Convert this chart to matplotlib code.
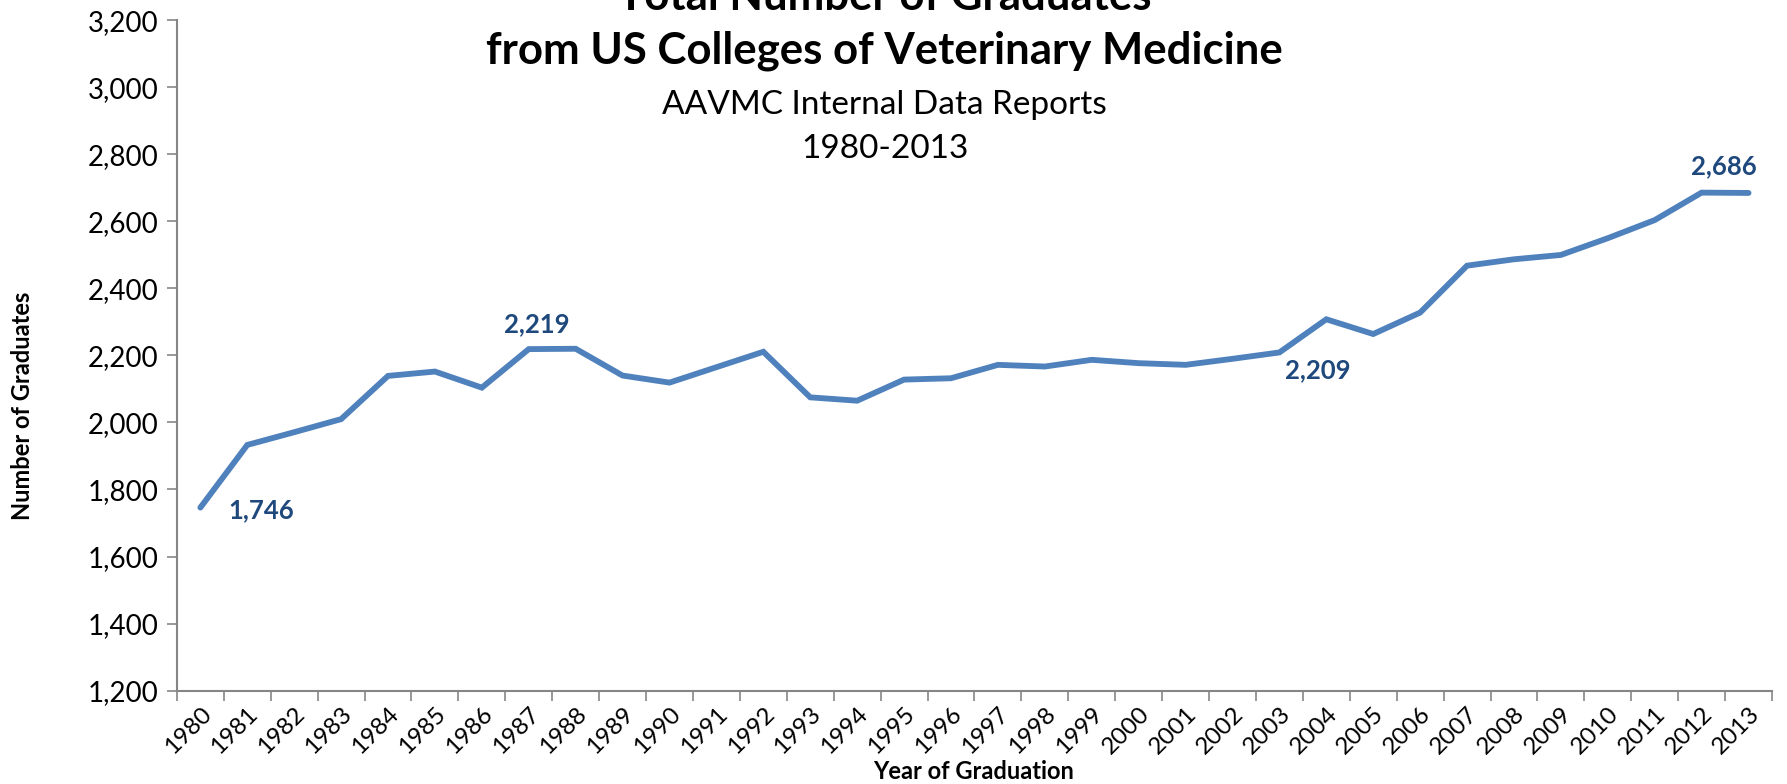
import matplotlib.pyplot as plt
from matplotlib.ticker import FuncFormatter, FixedLocator

# Data
years = [str(y) for y in range(1980, 2014)]
graduates = [1746, 1933, 1971, 2010, 2139, 2152, 2104, 2219, 2220, 2140,
             2119, 2165, 2211, 2075, 2065, 2128, 2132, 2172, 2167, 2187,
             2177, 2172, 2190, 2209, 2308, 2264, 2328, 2468, 2487, 2500,
             2550, 2604, 2686, 2685]
# which points carry a value label (offset in points, horizontal alignment)
labeled = {"1980": (20, -2, 'left'), "1987": (6, 18, 'center'),
           "2003": (28, -13, 'center'), "2012": (16, 19, 'center')}

plt.rcParams['font.family'] = ['Lato', 'DejaVu Sans']

line_color = '#4F81BD'
label_color = '#1F497D'
axis_color = '#868686'

fig = plt.figure(figsize=(17.87, 7.84), dpi=100)
ax = fig.add_axes([0.099, 0.1192, 0.8926, 0.8548])

x = list(range(len(years)))
ax.plot(x, graduates, color=line_color, lw=4.2, solid_joinstyle='miter',
        solid_capstyle='round')

for i, yr in enumerate(years):
    if yr in labeled:
        dx, dy, ha = labeled[yr]
        ax.annotate(f'{graduates[i]:,}', (i, graduates[i]), xytext=(dx, dy),
                    textcoords='offset points', ha=ha, va='center',
                    fontsize=18.5, fontweight='bold', color=label_color)

ax.set_xlim(-0.5, len(years) - 0.5)
ax.set_ylim(1200, 3200)
ax.set_yticks(range(1200, 3201, 200))
ax.yaxis.set_major_formatter(FuncFormatter(lambda v, p: f'{int(v):,}'))

# category axis: ticks between categories, labels on categories
ax.xaxis.set_major_locator(FixedLocator([i - 0.5 for i in range(len(years) + 1)]))
ax.xaxis.set_major_formatter(FuncFormatter(lambda v, p: ''))
ax.set_xticks(x, minor=True)
ax.set_xticklabels(years, minor=True, rotation=45, ha='right',
                   rotation_mode='anchor', fontsize=17.5)
ax.tick_params(axis='x', which='minor', length=0, pad=9)
ax.tick_params(axis='x', which='major', length=7, width=1.2, color=axis_color)
ax.tick_params(axis='y', length=7, width=1.2, color=axis_color, labelsize=20, pad=6)

for side in ['top', 'right']:
    ax.spines[side].set_visible(False)
for side in ['left', 'bottom']:
    ax.spines[side].set_color(axis_color)
    ax.spines[side].set_linewidth(1.5)

fig.text(0.495, 1.004, 'Total Number of Graduates', ha='center', va='center',
         fontsize=31.5, fontweight='bold')
fig.text(0.495, 0.935, 'from US Colleges of Veterinary Medicine', ha='center',
         va='center', fontsize=31.5, fontweight='bold')
fig.text(0.495, 0.866, 'AAVMC Internal Data Reports', ha='center', va='center', fontsize=24)
fig.text(0.495, 0.81, '1980-2013', ha='center', va='center', fontsize=24)

fig.text(0.0125, 0.483, 'Number of Graduates', rotation=90, ha='center',
         va='center', fontsize=17, fontweight='bold')
fig.text(0.545, 0.016, 'Year of Graduation', ha='center', va='center',
         fontsize=17, fontweight='bold')

fig.savefig('out.png', dpi=100)
